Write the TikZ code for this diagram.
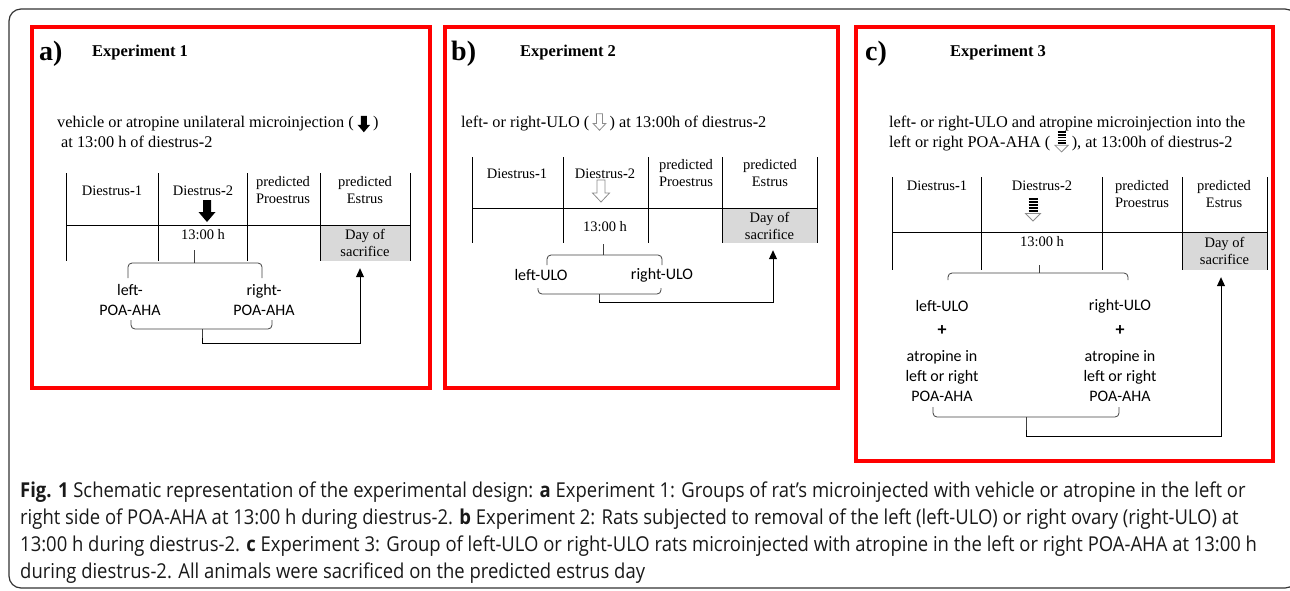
\documentclass[tikz,border=0pt]{standalone}
\usepackage{fontspec}
\setmainfont{Liberation Serif}
\newfontfamily\calfont{Carlito}
\newfontfamily\capfont[FakeStretch=0.9]{Open Sans}
\usepackage{xcolor}
\usetikzlibrary{positioning,arrows.meta}

\definecolor{sacgray}{HTML}{D9D9D9}
\definecolor{framered}{HTML}{FF0000}
\definecolor{bracegray}{HTML}{404040}
\definecolor{hollowgray}{HTML}{8C8C8C}
\definecolor{outergray}{HTML}{333333}

\tikzset{
  panel/.style={draw=framered, line width=4pt},
  tabline/.style={draw=black, line width=0.9pt},
  cell/.style={font=\fontsize{14.5}{17}\selectfont, align=center, inner sep=0pt},
  txt/.style={font=\fontsize{16.3}{20}\selectfont, inner sep=0pt},
  panelmark/.style={font=\bfseries\fontsize{28}{30}\selectfont, inner sep=0pt},
  exptitle/.style={font=\bfseries\fontsize{16.5}{18}\selectfont, inner sep=0pt},
  lbl/.style={font=\calfont\fontsize{16}{20}\selectfont, align=center, inner sep=0pt},
  sacbox/.style={fill=sacgray, inner sep=0pt, align=center, font=\fontsize{14.5}{17}\selectfont},
  curly/.style={draw=bracegray, line width=0.8pt, rounded corners=4pt},
  link/.style={draw=black, line width=0.9pt, -{Triangle[length=9pt,width=8pt]}},
  captxt/.style={font=\capfont\fontsize{20.5}{27}\selectfont, text=black!90, inner sep=0pt},
  darrow/.pic={\fill[black] (-4,-11) -- (4,-11) -- (4,1) -- (8.5,1) -- (0,11) -- (-8.5,1) -- (-4,1) -- cycle;},
  harrow/.pic={\draw[hollowgray, fill=white, line width=0.8pt] (-4,-11) -- (4,-11) -- (4,2) -- (8.5,2) -- (0,11) -- (-8.5,2) -- (-4,2) -- cycle;},
  sarrow/.pic={\foreach \s in {-11,-8,-5,-2,1} \draw[black, line width=1.4pt] (-4.5,\s) -- (4.5,\s);
               \draw[hollowgray, fill=white, line width=0.8pt] (-7.5,3.5) -- (7.5,3.5) -- (0,11) -- cycle;}
}

\begin{document}
\begin{tikzpicture}[x=1pt, y=-1pt]
\useasboundingbox (0,0) rectangle (1290,590);
\draw[outergray, line width=1.2pt, rounded corners=12pt] (9,9) rectangle (1297,588);

% Experiment 1
\draw[panel] (32,27) rectangle (430,388);
\node[panelmark, anchor=west] (marka) at (39,54) {a)};
\node[exptitle, anchor=west] (expa) at (92,53) {Experiment 1};
\node[txt, anchor=base west] (infa) at (57,127) {vehicle or atropine unilateral microinjection (};
\pic[scale=0.75] at ([xshift=10pt,yshift=3pt]infa.base east) {darrow};
\node[txt, anchor=base west] (infb) at ([xshift=19pt]infa.base east) {)};
\node[txt, anchor=base west] (infc) at (61,147) {at 13:00 h of diestrus\textbf{-}2};

\node[sacbox, minimum width=90pt, minimum height=36pt] (sa) at (365,243) {Day of\\sacrifice};
\foreach \x in {66,158,247,320,410} \draw[tabline] (\x,173) -- (\x,261);
\draw[tabline] (66,225) -- (410,225);
\node[cell] (d1a) at (112,191) {Diestrus\textbf{-}1};
\node[cell] (d2a) at (203,191) {Diestrus\textbf{-}2};
\pic at (207,211) {darrow};
\node[cell] (pra) at (283,190.5) {predicted\\Proestrus};
\node[cell] (esa) at (365,190.5) {predicted\\Estrus};
\node[cell] (hra) at (203,235) {13:00 h};

\node[lbl] (lpa) at (130,300) {left-\\POA-AHA};
\node[lbl] (rpa) at (264,300) {right-\\POA-AHA};
\draw[curly] (128,278) |- (262,263) -- (262,278);
\draw[curly] (194,263) -- (194,250);
\draw[curly] (131,320) |- (272,329) -- (272,320);
\coordinate (tipa) at (202,338);
\draw[curly] (202,329) -- (tipa);
\draw[link] (tipa) -- ++(0,5) -| ([xshift=-5pt,yshift=-7pt]sa.south);

% Experiment 2
\draw[panel] (445,27) rectangle (838,388);
\node[panelmark, anchor=west] (markb) at (451,54) {b)};
\node[exptitle, anchor=west] (expb) at (520,53) {Experiment 2};
\node[txt, anchor=base west] (infd) at (461,127) {left\textbf{-} or right\textbf{-}ULO (};
\pic[scale=0.75] at ([xshift=10pt,yshift=5pt]infd.base east) {harrow};
\node[txt, anchor=base west] (infe) at ([xshift=20pt]infd.base east) {) at 13:00h of diestrus\textbf{-}2};

\node[sacbox, minimum width=95pt, minimum height=35pt] (sb) at (769.5,225.5) {Day of\\sacrifice};
\foreach \x in {472,563,648,722,817} \draw[tabline] (\x,157) -- (\x,243);
\draw[tabline] (472,208) -- (817,208);
\node[cell] (d1b) at (517,174) {Diestrus\textbf{-}1};
\node[cell] (d2b) at (605,174) {Diestrus\textbf{-}2};
\pic at (601,191) {harrow};
\node[cell] (prb) at (686,173.5) {predicted\\Proestrus};
\node[cell] (esb) at (770,173.5) {predicted\\Estrus};
\node[cell] (hrb) at (605,227) {13:00 h};

\node[lbl] (lub) at (541,275) {left-ULO};
\node[lbl] (rub) at (662,275) {right-ULO};
\draw[curly] (547,265) |- (662,255) -- (662,265);
\draw[curly] (603,255) -- (603,244);
\draw[curly] (538,288) |- (661,294) -- (661,288);
\coordinate (tipb) at (599,300);
\draw[curly] (599,294) -- (tipb);
\draw[link] (tipb) -- ++(0,2) -| ([xshift=3.5pt,yshift=-7pt]sb.south);

% Experiment 3
\draw[panel] (855.5,27) rectangle (1273,461);
\node[panelmark, anchor=west] (markc) at (865,54) {c)};
\node[exptitle, anchor=west] (expc) at (950,53) {Experiment 3};
\node[txt, anchor=base west] (inff) at (889,127) {left\textbf{-} or right\textbf{-}ULO and atropine microinjection into the};
\node[txt, anchor=base west] (infg) at (889,147) {left or right POA-AHA (};
\pic[scale=0.9] at ([xshift=11pt,yshift=5pt]infg.base east) {sarrow};
\node[txt, anchor=base west] (infh) at ([xshift=21pt]infg.base east) {), at 13:00h of diestrus\textbf{-}2};

\node[sacbox, minimum width=85pt, minimum height=38pt] (sc) at (1224.5,251) {Day of\\sacrifice};
\foreach \x in {892,981,1102,1182,1267} \draw[tabline] (\x,177) -- (\x,270);
\draw[tabline] (892,232) -- (1267,232);
\node[cell] (d1c) at (937,186) {Diestrus\textbf{-}1};
\node[cell] (d2c) at (1042,186) {Diestrus\textbf{-}2};
\pic at (1033,210) {sarrow};
\node[cell] (prc) at (1142,194.5) {predicted\\Proestrus};
\node[cell] (esc) at (1224,194.5) {predicted\\Estrus};
\node[cell] (hrc) at (1042,242) {13:00 h};

\node[lbl] (luc) at (942,306) {left-ULO};
\node[lbl, font=\calfont\bfseries\fontsize{18}{20}\selectfont] (plc) at (942,331) {+};
\node[lbl] (atc) at (942,376) {atropine in\\left or right\\POA-AHA};
\node[lbl] (ruc) at (1120,306) {right-ULO};
\node[lbl, font=\calfont\bfseries\fontsize{18}{20}\selectfont] (prc2) at (1120,331) {+};
\node[lbl] (atd) at (1120,376) {atropine in\\left or right\\POA-AHA};
\draw[curly] (948,280) |- (1128,273) -- (1128,280);
\draw[curly] (1039,273) -- (1039,265);
\draw[curly] (933,407) |- (1119,417) -- (1119,407);
\coordinate (tipc) at (1026,430);
\draw[curly] (1026,417) -- (tipc);
\draw[link] (tipc) -- ++(0,6) -| ([xshift=-3.5pt,yshift=-7pt]sc.south);

% caption
\node[captxt, anchor=west] (cap1) at (20,492) {\textbf{Fig. 1} Schematic representation of the experimental design: \textbf{a} Experiment 1: Groups of rat’s microinjected with vehicle or atropine in the left or};
\node[captxt, anchor=west] (cap2) at (20,519) {right side of POA-AHA at 13:00 h during diestrus-2. \textbf{b} Experiment 2: Rats subjected to removal of the left (left-ULO) or right ovary (right-ULO) at};
\node[captxt, anchor=west] (cap3) at (20,546) {13:00 h during diestrus-2. \textbf{c} Experiment 3: Group of left-ULO or right-ULO rats microinjected with atropine in the left or right POA-AHA at 13:00 h};
\node[captxt, anchor=west] (cap4) at (20,573) {during diestrus-2. All animals were sacrificed on the predicted estrus day};
\end{tikzpicture}
\end{document}
